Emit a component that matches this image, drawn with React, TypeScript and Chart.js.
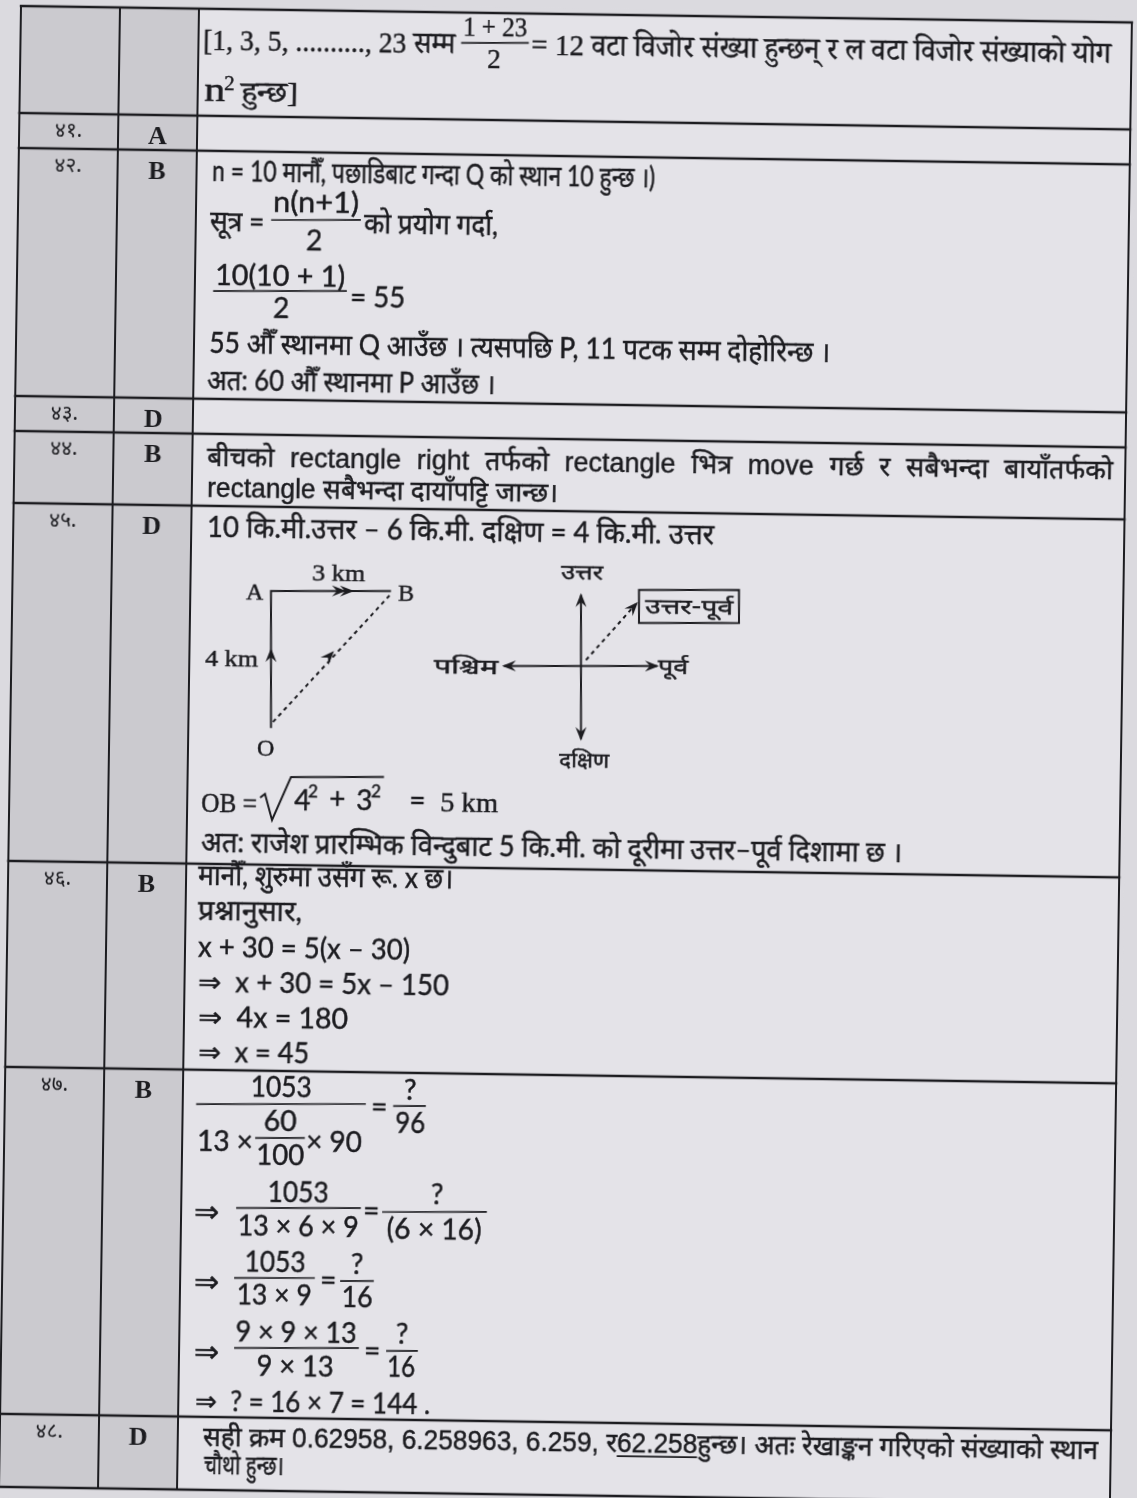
import React, { useEffect, useRef } from 'react';
import { Chart, registerables } from 'chart.js';

Chart.register(...registerables);

// ---------------- data (read from the scanned page) ----------------
const questionNumbers = ['', '४१.', '४२.', '४३.', '४४.', '४५.', '४६.', '४७.', '४८.'];
const answerKeys = ['', 'A', 'B', 'D', 'B', 'D', 'B', 'B', 'D'];

const carryOverText = [
  '[1, 3, 5, .........., 23 सम्म',
  '1 + 23',
  '2',
  '= 12 वटा विजोर संख्या हुन्छन् र ल वटा विजोर संख्याको योग',
  'n',
  '2',
  'हुन्छ]',
];
const q42Text = [
  'n = 10 मानौँ, पछाडिबाट गन्दा Q को स्थान 10 हुन्छ ।)',
  'सूत्र =',
  'n(n+1)',
  '2',
  'को प्रयोग गर्दा,',
  '10(10 + 1)',
  '2',
  '= 55',
  '55 औँ स्थानमा Q आउँछ । त्यसपछि P, 11 पटक सम्म दोहोरिन्छ ।',
  'अत: 60 औँ स्थानमा P आउँछ ।',
];
const q44Text = [
  'बीचको rectangle right तर्फको rectangle भित्र move गर्छ र सबैभन्दा बायाँतर्फको',
  'rectangle सबैभन्दा दायाँपट्टि जान्छ।',
];
const q45Text = [
  '10 कि.मी.उत्तर – 6 कि.मी. दक्षिण = 4 कि.मी. उत्तर',
  'अत: राजेश प्रारम्भिक विन्दुबाट 5 कि.मी. को दूरीमा उत्तर–पूर्व दिशामा छ ।',
];
const q45Labels = ['3 km', 'A', 'B', '4 km', 'O', 'उत्तर', 'पश्चिम', 'पूर्व', 'दक्षिण', 'उत्तर-पूर्व'];
const q45Root = ['OB =', '4', '2', '+', '3', '2', '=', '5 km'];
const q46Text = [
  'मानौँ, शुरुमा उसँग रू. x छ।',
  'प्रश्नानुसार,',
  'x + 30 = 5(x – 30)',
  '⇒  x + 30 = 5x – 150',
  '⇒  4x = 180',
  '⇒  x = 45',
];
const q47Text = [
  '1053', '13 ×', '60', '100', '× 90', '=', '?', '96',
  '⇒', '1053', '13 × 6 × 9', '=', '?', '(6 × 16)',
  '⇒', '1053', '13 × 9', '=', '?', '16',
  '⇒', '9 × 9 × 13', '9 × 13', '=', '?', '16',
  '⇒  ? = 16 × 7 = 144 .',
];
const q48Text = [
  'सही क्रम 0.62958, 6.258963, 6.259, र',
  '62.258',
  'हुन्छ। अतः रेखाङ्कन गरिएको संख्याको स्थान',
  'चौथो हुन्छ।',
];

// ---------------- layout ----------------
const PAGE_W = 1137;
const PAGE_H = 1498;
const TILT = 0.85; // the scan is turned slightly clockwise
const PIVOT_X = 21;
const PIVOT_Y = 6;

const columnEdges = [21, 120, 199, 1132];
const rowEdges = [6, 113, 148, 396, 431, 503, 861, 1067, 1414, 1487];
const labelOffset = 21;

const PAPER = '#dbdadf';
const CELL = '#e4e3e8';
const SHADE = '#cbcacf';
const INK = '#1c1c20';

const SERIF = '"Liberation Serif", "Noto Serif Devanagari", "Noto Sans Devanagari", serif';
const BODY = '"Lato", "Noto Sans Devanagari", "Noto Sans", "DejaVu Sans", sans-serif';
const SANS = '"Liberation Sans", "Noto Sans Devanagari", "Noto Sans", sans-serif';
const DEVA = '"Noto Sans Devanagari", "Noto Sans", sans-serif';

const rad = (TILT * Math.PI) / 180;
const COS = Math.cos(rad);
const SIN = Math.sin(rad);
// measured (picture) coordinates -> the un-tilted frame that the canvas draws in
const unrot = (X: number, Y: number): [number, number] => {
  const dx = X - PIVOT_X;
  const dy = Y - PIVOT_Y;
  return [PIVOT_X + dx * COS + dy * SIN, PIVOT_Y - dx * SIN + dy * COS];
};

type Item = {
  src: string[];
  i: number | number[];
  x: number;
  y: number;
  font: string;
  w?: number;
  align?: 'left' | 'center';
  justify?: boolean;
  ul?: number;
};

const BD = `28px ${BODY}`;
const ARW = `30px ${BODY}`;
const textLayout: Item[] = [
  { src: carryOverText, i: 0, x: 203, y: 50, font: `30px ${SERIF}`, w: 252 },
  { src: carryOverText, i: 1, x: 495, y: 36, font: `27px ${SERIF}`, w: 64, align: 'center' },
  { src: carryOverText, i: 2, x: 494, y: 68, font: `27px ${SERIF}`, align: 'center' },
  { src: carryOverText, i: 3, x: 531, y: 55, font: `30px ${SERIF}`, w: 580 },
  { src: carryOverText, i: 4, x: 204, y: 101, font: `34px ${SERIF}`, w: 21 },
  { src: carryOverText, i: 5, x: 224, y: 90, font: `21px ${SERIF}` },
  { src: carryOverText, i: 6, x: 241, y: 101, font: `28px ${SERIF}`, w: 57 },

  { src: q42Text, i: 0, x: 212, y: 181, font: BD, w: 443 },
  { src: q42Text, i: 1, x: 210, y: 231, font: BD, w: 54 },
  { src: q42Text, i: 2, x: 316, y: 212, font: BD, w: 86, align: 'center' },
  { src: q42Text, i: 3, x: 314, y: 250, font: BD, align: 'center' },
  { src: q42Text, i: 4, x: 364, y: 233, font: BD, w: 134 },
  { src: q42Text, i: 5, x: 280, y: 286, font: BD, w: 130, align: 'center' },
  { src: q42Text, i: 6, x: 281, y: 318, font: BD, align: 'center' },
  { src: q42Text, i: 7, x: 350, y: 307, font: BD, w: 55 },
  { src: q42Text, i: 8, x: 209, y: 353, font: BD, w: 621 },
  { src: q42Text, i: 9, x: 207, y: 390, font: BD, w: 288 },

  { src: q44Text, i: 0, x: 207, y: 466, font: `27px ${SANS}`, w: 906, justify: true },
  { src: q44Text, i: 1, x: 207, y: 497, font: `27px ${SANS}`, w: 351 },

  { src: q45Text, i: 0, x: 207, y: 537, font: BD, w: 507 },
  { src: q45Labels, i: 0, x: 312, y: 580, font: `24px ${SERIF}`, w: 53 },
  { src: q45Labels, i: 1, x: 246, y: 599, font: `24px ${SERIF}` },
  { src: q45Labels, i: 2, x: 398, y: 601, font: `24px ${SERIF}` },
  { src: q45Labels, i: 3, x: 205, y: 666, font: `24px ${SERIF}`, w: 53 },
  { src: q45Labels, i: 4, x: 257, y: 756, font: `24px ${SERIF}` },
  { src: q45Labels, i: 5, x: 582, y: 579, font: `21px ${DEVA}`, w: 42, align: 'center' },
  { src: q45Labels, i: 6, x: 434, y: 673, font: `21px ${DEVA}`, w: 64 },
  { src: q45Labels, i: 7, x: 658, y: 674, font: `21px ${DEVA}`, w: 30 },
  { src: q45Labels, i: 8, x: 584, y: 767, font: `21px ${DEVA}`, w: 50, align: 'center' },
  { src: q45Labels, i: 9, x: 689, y: 614, font: `21px ${DEVA}`, w: 88, align: 'center' },
  { src: q45Root, i: 0, x: 201, y: 812, font: `28px ${SERIF}`, w: 56 },
  { src: q45Root, i: 1, x: 294, y: 810, font: BD },
  { src: q45Root, i: 2, x: 308, y: 797, font: `17px ${BODY}` },
  { src: q45Root, i: 3, x: 329, y: 809, font: BD },
  { src: q45Root, i: 4, x: 356, y: 810, font: BD },
  { src: q45Root, i: 5, x: 371, y: 797, font: `17px ${BODY}` },
  { src: q45Root, i: 6, x: 409, y: 810, font: BD },
  { src: q45Root, i: 7, x: 440, y: 811, font: `28px ${SERIF}`, w: 58 },
  { src: q45Text, i: 1, x: 201, y: 852, font: BD, w: 701 },

  { src: q46Text, i: 0, x: 198, y: 885, font: BD, w: 255 },
  { src: q46Text, i: 1, x: 198, y: 920, font: BD, w: 104 },
  { src: q46Text, i: 2, x: 198, y: 957, font: BD, w: 212 },
  { src: q46Text, i: 3, x: 198, y: 992, font: BD, w: 251 },
  { src: q46Text, i: 4, x: 198, y: 1027, font: BD, w: 150 },
  { src: q46Text, i: 5, x: 198, y: 1062, font: BD, w: 111 },

  { src: q47Text, i: 0, x: 281, y: 1097, font: BD, w: 61, align: 'center' },
  { src: q47Text, i: 1, x: 197, y: 1151, font: BD },
  { src: q47Text, i: 2, x: 280, y: 1131, font: BD, w: 33, align: 'center' },
  { src: q47Text, i: 3, x: 280, y: 1165, font: BD, w: 48, align: 'center' },
  { src: q47Text, i: 4, x: 306, y: 1151, font: BD },
  { src: q47Text, i: 5, x: 371, y: 1116, font: BD },
  { src: q47Text, i: 6, x: 410, y: 1100, font: BD, align: 'center' },
  { src: q47Text, i: 7, x: 410, y: 1133, font: BD, w: 30, align: 'center' },
  { src: q47Text, i: 8, x: 194, y: 1222, font: ARW },
  { src: q47Text, i: 9, x: 298, y: 1202, font: BD, w: 61, align: 'center' },
  { src: q47Text, i: 10, x: 298, y: 1236, font: BD, w: 121, align: 'center' },
  { src: q47Text, i: 11, x: 363, y: 1220, font: BD },
  { src: q47Text, i: 12, x: 437, y: 1204, font: BD, align: 'center' },
  { src: q47Text, i: 13, x: 434, y: 1239, font: BD, w: 95, align: 'center' },
  { src: q47Text, i: 14, x: 194, y: 1292, font: ARW },
  { src: q47Text, i: 15, x: 275, y: 1272, font: BD, w: 61, align: 'center' },
  { src: q47Text, i: 16, x: 274, y: 1305, font: BD, w: 75, align: 'center' },
  { src: q47Text, i: 17, x: 320, y: 1290, font: BD },
  { src: q47Text, i: 18, x: 357, y: 1274, font: BD, align: 'center' },
  { src: q47Text, i: 19, x: 357, y: 1307, font: BD, w: 31, align: 'center' },
  { src: q47Text, i: 20, x: 194, y: 1362, font: ARW },
  { src: q47Text, i: 21, x: 296, y: 1342, font: BD, w: 121, align: 'center' },
  { src: q47Text, i: 22, x: 295, y: 1376, font: BD, w: 77, align: 'center' },
  { src: q47Text, i: 23, x: 364, y: 1360, font: BD },
  { src: q47Text, i: 24, x: 402, y: 1344, font: BD, align: 'center' },
  { src: q47Text, i: 25, x: 401, y: 1377, font: BD, w: 28, align: 'center' },
  { src: q47Text, i: 26, x: 195, y: 1411, font: BD, w: 235 },

  { src: q48Text, i: [0, 1, 2], x: 203, y: 1446, font: `27px ${SANS}`, w: 895, ul: 1 },
  { src: q48Text, i: 3, x: 204, y: 1474, font: `27px ${SANS}`, w: 80 },
];

// fraction bars [x1, x2, y] in picture coordinates
const fractionBars: [number, number, number][] = [
  [462, 528, 43],
  [272, 360, 220],
  [214, 346, 291],
  [197, 365, 1104],
  [256, 304, 1138],
  [394, 425, 1106],
  [237, 360, 1208],
  [383, 486, 1212],
  [235, 314, 1278],
  [341, 373, 1281],
  [235, 358, 1348],
  [387, 417, 1351],
];

// figure of question 45 (picture coordinates)
const solidPaths: [number, number][][] = [
  [[271, 727], [271, 591], [390, 591]],
  [[581, 596], [581, 738]],
  [[505, 666], [656, 666]],
  [[639, 590], [739, 590], [739, 623], [639, 623], [639, 590]],
  [[261, 797], [265, 794], [272, 820], [291, 777], [383, 777]],
];
const dashedPaths: [number, number][][] = [
  [[273, 722], [390, 595]],
  [[586, 660], [636, 604]],
];
// arrow heads: [fromX, fromY, tipX, tipY]
const arrowHeads: [number, number, number, number][] = [
  [271, 668, 271, 648],
  [330, 591, 346, 591],
  [338, 591, 354, 591],
  [323, 663, 334, 651],
  [581, 612, 581, 593],
  [581, 722, 581, 741],
  [520, 666, 502, 666],
  [641, 666, 659, 666],
  [627, 614, 638, 602],
];

// ---------------- chart ----------------
const lineSet = (pts: { x: number; y: number }[], dashed = false, width = 2) => ({
  data: pts,
  showLine: true,
  pointRadius: 0,
  pointHoverRadius: 0,
  borderColor: INK,
  backgroundColor: INK,
  borderWidth: width,
  borderDash: dashed ? [4, 4] : [],
  borderCapStyle: dashed ? 'butt' : 'square',
  borderJoinStyle: 'miter',
  tension: 0,
  fill: false,
  clip: false,
});

const toPts = (path: [number, number][]) =>
  path.map(([X, Y]) => {
    const [x, y] = unrot(X, Y);
    return { x, y };
  });

function buildDatasets() {
  const sets: any[] = [];
  const last = rowEdges.length - 1;
  rowEdges.forEach((ry) => {
    sets.push(lineSet([{ x: columnEdges[0], y: ry }, { x: columnEdges[3], y: ry }], false, 2.4));
  });
  columnEdges.forEach((cx) => {
    sets.push(lineSet([{ x: cx, y: rowEdges[0] }, { x: cx, y: rowEdges[last] }], false, 2));
  });
  fractionBars.forEach(([x1, x2, y]) => {
    sets.push(lineSet(toPts([[x1, y], [x2, y]]), false, 1.7));
  });
  solidPaths.forEach((p) => sets.push(lineSet(toPts(p), false, 2)));
  dashedPaths.forEach((p) => sets.push(lineSet(toPts(p), true, 2)));
  return sets;
}

function ink(ctx: CanvasRenderingContext2D, s: string, x: number, y: number) {
  ctx.fillText(s, x, y);
  ctx.strokeText(s, x, y);
}

function drawItem(ctx: CanvasRenderingContext2D, P: (X: number, Y: number) => [number, number], it: Item) {
  const parts = Array.isArray(it.i) ? it.i.map((k) => it.src[k]) : [it.src[it.i]];
  const str = parts.join('');
  ctx.font = it.font;
  ctx.textBaseline = 'alphabetic';
  ctx.strokeStyle = INK;
  ctx.lineWidth = 0.45;
  const nat = ctx.measureText(str).width;
  const k = it.w ? Math.max(0.6, Math.min(1.5, it.w / nat)) : 1;
  const [px, py] = P(it.x, it.y);
  ctx.save();
  ctx.translate(px, py);
  if (it.justify && it.w) {
    const words = str.split(' ');
    const ws = words.map((w) => ctx.measureText(w).width);
    const sum = ws.reduce((a, b) => a + b, 0);
    const space = ctx.measureText(' ').width;
    const full = sum + space * (words.length - 1);
    const sc = full > it.w ? it.w / full : 1;
    const gap = (it.w - sum * sc) / (words.length - 1);
    let cx = 0;
    ctx.textAlign = 'left';
    words.forEach((w, j) => {
      ctx.save();
      ctx.translate(cx, 0);
      ctx.scale(sc, 1);
      ink(ctx, w, 0, 0);
      ctx.restore();
      cx += ws[j] * sc + gap;
    });
  } else {
    ctx.scale(k, 1);
    ctx.textAlign = it.align === 'center' ? 'center' : 'left';
    ink(ctx, str, 0, 0);
    if (it.ul != null && Array.isArray(it.i)) {
      const before = parts.slice(0, it.ul).join('');
      const x0 = ctx.measureText(before).width;
      const x1 = x0 + ctx.measureText(parts[it.ul]).width;
      ctx.lineWidth = 1.6;
      ctx.beginPath();
      ctx.moveTo(x0, 4);
      ctx.lineTo(x1, 4);
      ctx.stroke();
    }
  }
  ctx.restore();
}

const pagePlugin = {
  id: 'scanPage',
  beforeDraw(chart: any) {
    const { ctx } = chart;
    const sx = chart.scales.x;
    const sy = chart.scales.y;
    const X = (v: number) => sx.getPixelForValue(v);
    const Y = (v: number) => sy.getPixelForValue(v);
    const last = rowEdges.length - 1;
    ctx.save();
    ctx.fillStyle = PAPER;
    ctx.fillRect(0, 0, chart.width, chart.height);
    ctx.fillStyle = SHADE;
    ctx.fillRect(X(columnEdges[0]), Y(rowEdges[0]), X(columnEdges[2]) - X(columnEdges[0]), Y(rowEdges[last]) - Y(rowEdges[0]));
    ctx.fillStyle = CELL;
    ctx.fillRect(X(columnEdges[2]), Y(rowEdges[0]), X(columnEdges[3]) - X(columnEdges[2]), Y(rowEdges[last]) - Y(rowEdges[0]));
    ctx.restore();
  },
  afterDatasetsDraw(chart: any) {
    const { ctx } = chart;
    const sx = chart.scales.x;
    const sy = chart.scales.y;
    const P = (Xi: number, Yi: number): [number, number] => {
      const [u, v] = unrot(Xi, Yi);
      return [sx.getPixelForValue(u), sy.getPixelForValue(v)];
    };
    ctx.save();
    ctx.fillStyle = INK;
    ctx.strokeStyle = INK;

    // question numbers and answer keys, centred in the first two columns
    for (let r = 1; r < questionNumbers.length; r++) {
      const cy = sy.getPixelForValue(rowEdges[r] + labelOffset);
      ctx.textBaseline = 'middle';
      ctx.textAlign = 'center';
      ctx.font = `21px ${DEVA}`;
      ctx.fillText(questionNumbers[r], sx.getPixelForValue((columnEdges[0] + columnEdges[1]) / 2), cy - 2);
      ctx.font = `bold 26px ${SERIF}`;
      ctx.fillText(answerKeys[r], sx.getPixelForValue((columnEdges[1] + columnEdges[2]) / 2), cy + 1);
    }

    textLayout.forEach((it) => drawItem(ctx, P, it));

    // arrow heads of the figure
    ctx.fillStyle = INK;
    arrowHeads.forEach(([fx, fy, tx, ty]) => {
      const a = P(fx, fy);
      const b = P(tx, ty);
      const ang = Math.atan2(b[1] - a[1], b[0] - a[0]);
      ctx.save();
      ctx.translate(b[0], b[1]);
      ctx.rotate(ang);
      ctx.beginPath();
      ctx.moveTo(0, 0);
      ctx.lineTo(-14, -5.5);
      ctx.lineTo(-9, 0);
      ctx.lineTo(-14, 5.5);
      ctx.closePath();
      ctx.fill();
      ctx.restore();
    });
    ctx.restore();
  },
};

export default function App() {
  const ref = useRef<HTMLCanvasElement>(null);
  useEffect(() => {
    const canvas = ref.current;
    if (!canvas) return;
    const chart = new Chart(canvas, {
      type: 'scatter',
      data: { datasets: buildDatasets() },
      options: {
        animation: false,
        responsive: false,
        devicePixelRatio: 1,
        events: [],
        layout: { padding: 0 },
        plugins: { legend: { display: false }, tooltip: { enabled: false }, title: { display: false } },
        scales: {
          x: { type: 'linear', min: 0, max: PAGE_W, display: false },
          y: { type: 'linear', min: 0, max: PAGE_H, reverse: true, display: false },
        },
      } as any,
      plugins: [pagePlugin],
    });
    let alive = true;
    if ((document as any).fonts && (document as any).fonts.ready) {
      (document as any).fonts.ready.then(() => {
        if (alive) chart.draw();
      });
    }
    return () => {
      alive = false;
      chart.destroy();
    };
  }, []);
  return (
    <div
      style={{
        position: 'absolute',
        left: 0,
        top: 0,
        width: PAGE_W,
        height: PAGE_H,
        overflow: 'hidden',
        background: PAPER,
      }}
    >
      <canvas
        ref={ref}
        width={PAGE_W}
        height={PAGE_H}
        style={{
          position: 'absolute',
          left: 0,
          top: 0,
          width: PAGE_W,
          height: PAGE_H,
          transform: `rotate(${TILT}deg)`,
          transformOrigin: `${PIVOT_X}px ${PIVOT_Y}px`,
        }}
      />
    </div>
  );
}
